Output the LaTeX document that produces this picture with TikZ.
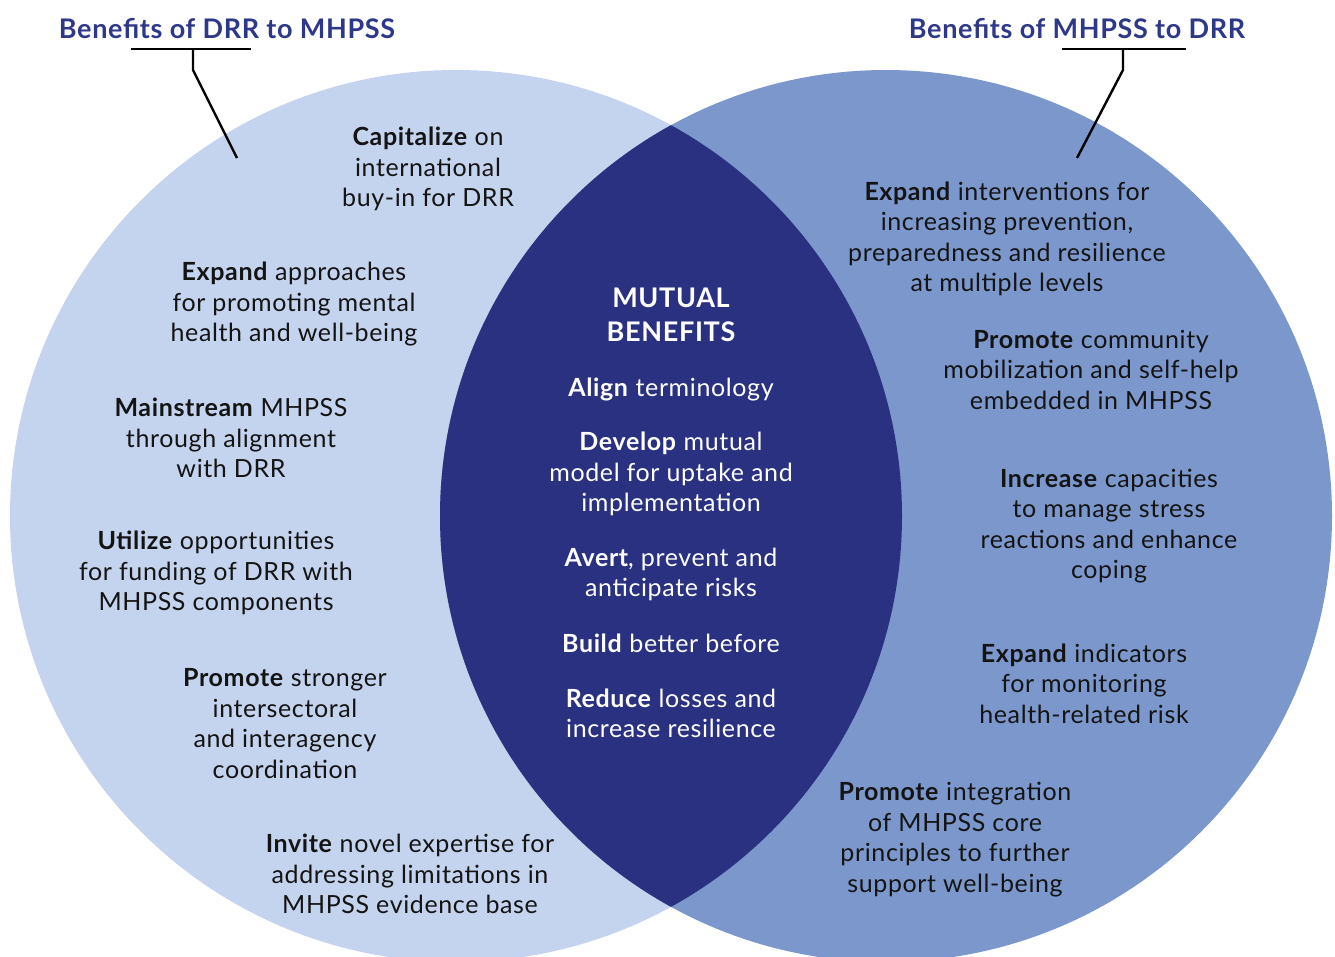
\documentclass[tikz,border=0pt]{standalone}
\usepackage{fontspec}
\setmainfont{Lato}[LetterSpace=2.5]
\usepackage{tikz}
\usetikzlibrary{positioning}

\definecolor{drrblue}{HTML}{C4D3EE}
\definecolor{mhpssblue}{HTML}{7B97CC}
\definecolor{lensblue}{HTML}{2A3180}
\definecolor{headblue}{HTML}{2E3888}

\begin{document}
\begin{tikzpicture}[x=1pt,y=-1pt,
  benefit/.style={align=center,inner sep=0pt,text=black!92,
    font=\fontsize{25}{30.5}\selectfont},
  mutual/.style={benefit,text=white},
  heading/.style={inner sep=0pt,anchor=base,text=headblue,
    font=\fontsize{27}{32}\selectfont\bfseries},
  callout/.style={line width=2.4pt,line join=miter}]

  \useasboundingbox (0,0) rectangle (1335,956);

  \coordinate (drr) at (456,516);
  \coordinate (mhpss) at (886,516);

  % the two circles and their overlap
  \begin{scope}
    \clip (0,0) rectangle (1335,956);
    \fill[drrblue] (drr) circle (446pt);
    \fill[mhpssblue] (mhpss) circle (446pt);
    \clip (drr) circle (446pt);
    \fill[lensblue] (mhpss) circle (446pt);
  \end{scope}

  % headings with their callouts
  \node[heading] (hdrr) at (227,38) {Benefits of DRR to MHPSS};
  \node[heading] (hmhpss) at (1077,38) {Benefits of MHPSS to DRR};

  \coordinate (ldrr) at (131,49);
  \coordinate (rdrr) at (251,49);
  \coordinate (kdrr) at (193,70);
  \coordinate (tdrr) at (237,158);
  \coordinate (lmhpss) at (1062,49);
  \coordinate (rmhpss) at (1186,49);
  \coordinate (kmhpss) at (1123,70);
  \coordinate (tmhpss) at (1077,158);

  \draw[callout] (ldrr) -- (rdrr);
  \draw[callout] (ldrr -| kdrr) -- (kdrr) -- (tdrr);
  \draw[callout] (lmhpss) -- (rmhpss);
  \draw[callout] (lmhpss -| kmhpss) -- (kmhpss) -- (tmhpss);

  % benefits of DRR to MHPSS
  \node[benefit] (capitalize) at (428,169) {\textbf{Capitalize} on\\international\\buy-in for DRR};
  \node[benefit] (approaches) at (294,304) {\textbf{Expand} approaches\\for promoting mental\\health and well-being};
  \node[benefit] (mainstream) at (231,438) {\textbf{Mainstream} MHPSS\\through alignment\\with DRR};
  \node[benefit] (utilize) at (216,573) {\textbf{Utilize} opportunities\\for funding of DRR with\\MHPSS components};
  \node[benefit] (coordination) at (285,723.5) {\textbf{Promote} stronger\\intersectoral\\and interagency\\coordination};
  \node[benefit] (invite) at (410,874) {\textbf{Invite} novel expertise for\\addressing limitations in\\MHPSS evidence base};

  % mutual benefits
  \node[mutual,font=\fontsize{27}{34}\selectfont\bfseries] (mutual) at (671,315) {MUTUAL\\BENEFITS};
  \node[mutual] (align) at (671,389) {\textbf{Align} terminology};
  \node[mutual] (develop) at (671,474) {\textbf{Develop} mutual\\model for uptake and\\implementation};
  \node[mutual] (avert) at (671,574.5) {\textbf{Avert}, prevent and\\anticipate risks};
  \node[mutual] (build) at (671,643) {\textbf{Build} better before};
  \node[mutual] (reduce) at (671,713.5) {\textbf{Reduce} losses and\\increase resilience};

  % benefits of MHPSS to DRR
  \node[benefit] (interventions) at (1007,239) {\textbf{Expand} interventions for\\increasing prevention,\\preparedness and resilience\\at multiple levels};
  \node[benefit] (community) at (1091,369.5) {\textbf{Promote} community\\mobilization and self-help\\embedded in MHPSS};
  \node[benefit] (capacities) at (1109,526) {\textbf{Increase} capacities\\to manage stress\\reactions and enhance\\coping};
  \node[benefit] (indicators) at (1084,683.5) {\textbf{Expand} indicators\\for monitoring\\health-related risk};
  \node[benefit] (integration) at (955,839.5) {\textbf{Promote} integration\\of MHPSS core\\principles to further\\support well-being};
\end{tikzpicture}
\end{document}
